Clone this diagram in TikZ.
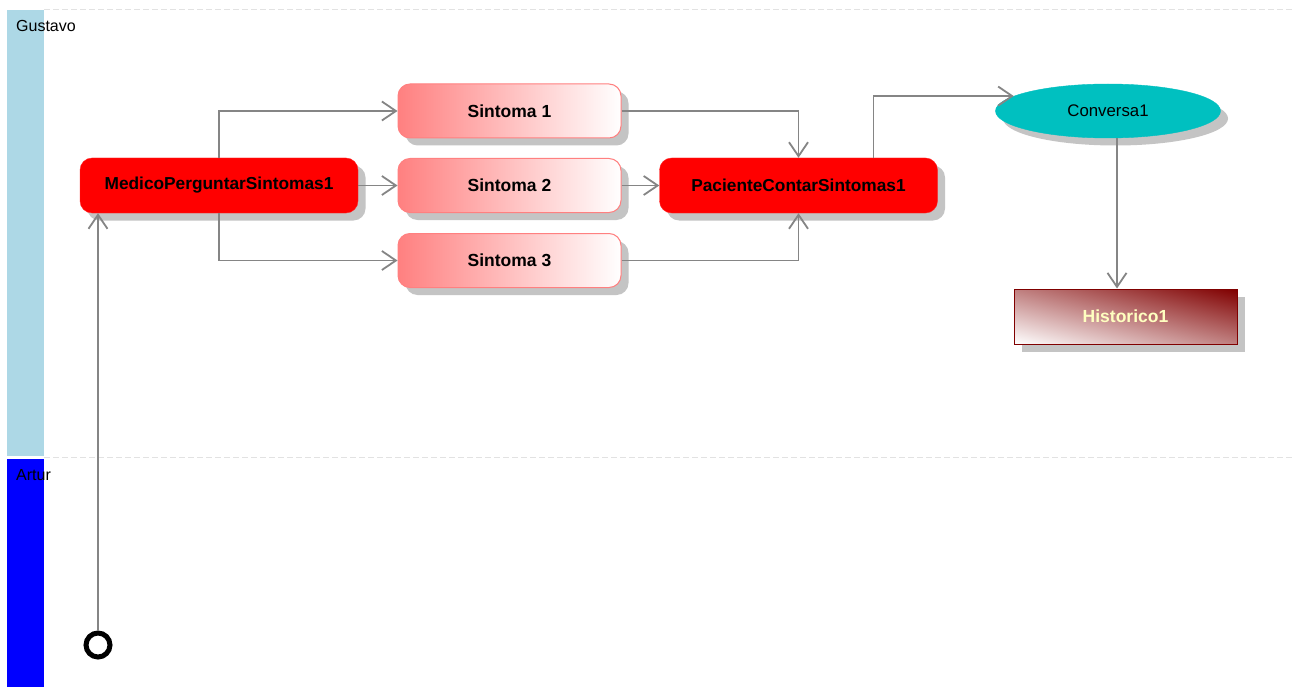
\documentclass[tikz,border=0pt]{standalone}
\usepackage{fontspec}
\setmainfont{Liberation Sans}
\usetikzlibrary{shapes.geometric,shadows,arrows.meta}
\definecolor{lane1}{HTML}{ADD8E6}
\definecolor{lane2}{HTML}{0000FF}
\definecolor{conn}{HTML}{858585}
\definecolor{pinkl}{HTML}{FF8080}
\definecolor{teal1}{HTML}{00C0C0}
\definecolor{dred}{HTML}{800000}
\definecolor{ltyel}{HTML}{FFFFC0}
\definecolor{dashc}{HTML}{E2E2E2}
\definecolor{shadc}{HTML}{C4C4C4}
\pgfdeclareverticalshading{histshade}{100bp}{color(0bp)=(white); color(14.64bp)=(white); color(85.36bp)=(dred); color(100bp)=(dred)}
\tikzset{
  shad/.style={drop shadow={shadow xshift=7.5pt,shadow yshift=-7.5pt,fill=shadc,opacity=1}},
  actred/.style={shad,rectangle,rounded corners=12pt,fill=red,draw=red!85,minimum width=278pt,minimum height=55pt,inner sep=0pt,font=\fontsize{17.3}{19}\selectfont\bfseries},
  sint/.style={shad,rectangle,rounded corners=12pt,left color=pinkl,right color=white,draw=pinkl,line width=1pt,minimum width=223pt,minimum height=54pt,inner sep=0pt,font=\fontsize{17.5}{19}\selectfont\bfseries},
  conv/.style={shad,ellipse,fill=teal1,draw=teal1,minimum width=225pt,minimum height=54pt,inner sep=0pt,font=\fontsize{16.8}{18}\selectfont},
  hist/.style={rectangle,draw=dred,line width=1pt,minimum width=223pt,minimum height=55pt,inner sep=0pt,text=ltyel,font=\fontsize{17.5}{19}\selectfont\bfseries},
  initn/.style={circle,draw=black,line width=5pt,minimum size=24pt,inner sep=0pt,fill=white},
  flow/.style={draw=conn,line width=1.8pt,-{Straight Barb[length=14pt,width=19pt,line width=1.8pt]}},
  lanelbl/.style={anchor=north west,inner sep=0pt,font=\fontsize{16}{18}\selectfont},
  sep/.style={draw=dashc,line width=1pt,dash pattern=on 6pt off 3pt}
}
\begin{document}
\begin{tikzpicture}[x=1pt,y=-1pt]
\useasboundingbox[fill=white] (0,0) rectangle (1292,687);
% lanes
\fill[lane1] (7,10) rectangle (44,456);
\fill[lane2] (7,459) rectangle (44,687);
\draw[sep] (44,10) -- (1292,10);
\draw[sep] (44,457.5) -- (1292,457.5);
\node[lanelbl] (lg) at (16,20) {Gustavo};
\node[lanelbl] (la) at (16,469) {Artur};
% nodes
\node[actred] (med) at (219,185.5) {MedicoPerguntarSintomas1};
\node[sint] (s1) at (509.5,111) {Sintoma 1};
\node[sint] (s2) at (509.5,185.5) {Sintoma 2};
\node[sint] (s3) at (509.5,260.5) {Sintoma 3};
\node[actred] (pac) at (798.5,185.5) {PacienteContarSintomas1};
\node[conv] (cv) at (1108,111) {Conversa1};
% Historico1: shadow and diagonal gradient drawn under the node
\fill[shadc] (1021.5,296.5) rectangle (1244.5,351.5);
\begin{scope}[transform canvas={xscale=4.0545}]
  \shade[shading=histshade,shading angle=-45] (250.09,289) rectangle (305.09,344);
\end{scope}
\node[hist] (hi) at (1125.5,316.5) {Historico1};
\node[initn] (ini) at (98,645) {};
% connectors
\draw[flow] (ini.north) -- (ini.north |- med.south);
\draw[flow] (med.north) |- (s1.west);
\draw[flow] (med.east) -- (s2.west);
\draw[flow] (med.south) |- (s3.west);
\draw[flow] (s1.east) -| (pac.north);
\draw[flow] (s2.east) -- (pac.west);
\draw[flow] (s3.east) -| (pac.south);
\draw[flow] ([xshift=75pt]pac.north) |- (cv.171.5);
\coordinate (cx) at (1117,0);
\draw[flow] (cv.south -| cx) -- (hi.north -| cx);
\end{tikzpicture}
\end{document}
